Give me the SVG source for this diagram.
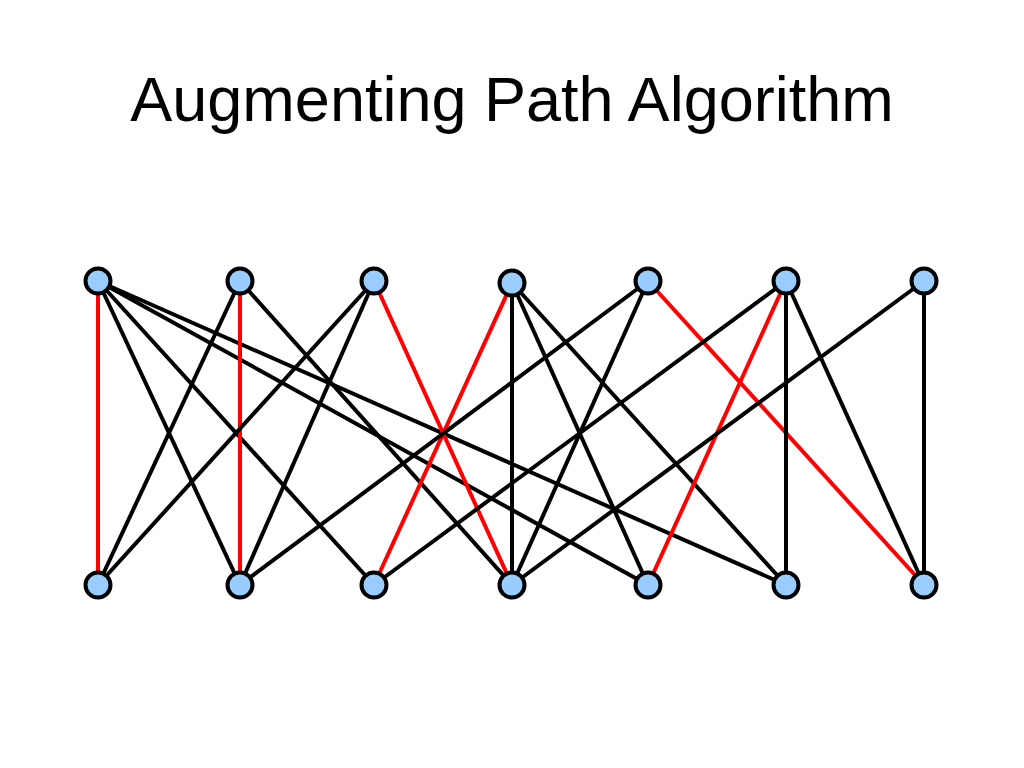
<svg xmlns="http://www.w3.org/2000/svg" width="1024" height="768" viewBox="0 0 1024 768">
<style>
.e{stroke:#000;stroke-width:4;fill:none}
.m{stroke:#f00;stroke-width:4;fill:none}
.n{fill:#99ccff;stroke:#000;stroke-width:4}
.t{font-family:"Liberation Sans",Arial,sans-serif;font-size:63px;fill:#000}
</style>
<rect width="1024" height="768" fill="#fff"/>
<text class="t" x="512" y="121" text-anchor="middle">Augmenting Path Algorithm</text>
<g id="edges">
<line class="m" x1="98" y1="281" x2="98" y2="585"/>
<line class="e" x1="98" y1="281" x2="240" y2="585"/>
<line class="e" x1="98" y1="281" x2="374" y2="585"/>
<line class="e" x1="98" y1="281" x2="648" y2="585"/>
<line class="e" x1="98" y1="281" x2="786" y2="585"/>
<line class="m" x1="240" y1="281" x2="240" y2="585"/>
<line class="e" x1="240" y1="281" x2="98" y2="585"/>
<line class="e" x1="240" y1="281" x2="512" y2="585"/>
<line class="m" x1="374" y1="281" x2="512" y2="585"/>
<line class="e" x1="374" y1="281" x2="98" y2="585"/>
<line class="e" x1="374" y1="281" x2="240" y2="585"/>
<line class="m" x1="512" y1="283" x2="374" y2="585"/>
<line class="e" x1="512" y1="283" x2="512" y2="585"/>
<line class="e" x1="512" y1="283" x2="648" y2="585"/>
<line class="e" x1="512" y1="283" x2="786" y2="585"/>
<line class="m" x1="648" y1="281" x2="924" y2="585"/>
<line class="e" x1="648" y1="281" x2="240" y2="585"/>
<line class="e" x1="648" y1="281" x2="512" y2="585"/>
<line class="m" x1="786" y1="281" x2="648" y2="585"/>
<line class="e" x1="786" y1="281" x2="374" y2="585"/>
<line class="e" x1="786" y1="281" x2="786" y2="585"/>
<line class="e" x1="786" y1="281" x2="924" y2="585"/>
<line class="e" x1="924" y1="281" x2="512" y2="585"/>
<line class="e" x1="924" y1="281" x2="924" y2="585"/>
</g>
<g id="t1"><circle class="n" cx="98" cy="281" r="12.5"/></g>
<g id="t2"><circle class="n" cx="240" cy="281" r="12.5"/></g>
<g id="t3"><circle class="n" cx="374" cy="281" r="12.5"/></g>
<g id="t4"><circle class="n" cx="512" cy="283" r="12.5"/></g>
<g id="t5"><circle class="n" cx="648" cy="281" r="12.5"/></g>
<g id="t6"><circle class="n" cx="786" cy="281" r="12.5"/></g>
<g id="t7"><circle class="n" cx="924" cy="281" r="12.5"/></g>
<g id="b1"><circle class="n" cx="98" cy="585" r="12.5"/></g>
<g id="b2"><circle class="n" cx="240" cy="585" r="12.5"/></g>
<g id="b3"><circle class="n" cx="374" cy="585" r="12.5"/></g>
<g id="b4"><circle class="n" cx="512" cy="585" r="12.5"/></g>
<g id="b5"><circle class="n" cx="648" cy="585" r="12.5"/></g>
<g id="b6"><circle class="n" cx="786" cy="585" r="12.5"/></g>
<g id="b7"><circle class="n" cx="924" cy="585" r="12.5"/></g>
</svg>
